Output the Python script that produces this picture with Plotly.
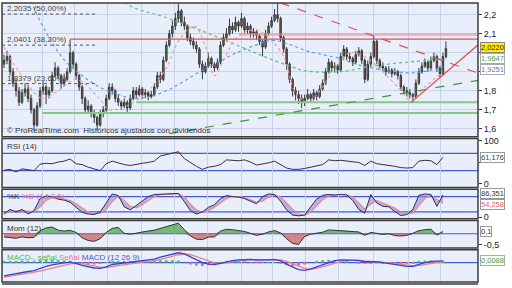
import plotly.graph_objects as go

# ---------------- price data (daily candles) ----------------
CLOSE = [1.96, 1.98, 1.90, 1.84, 1.80, 1.74, 1.79, 1.81, 1.76, 1.70,
         1.62, 1.72, 1.80, 1.82, 1.78, 1.80, 1.88, 1.92, 1.88, 1.84,
         1.86, 1.90, 2.00, 1.94, 1.88, 1.82, 1.76, 1.70, 1.72, 1.68,
         1.66, 1.62, 1.68, 1.70, 1.76, 1.82, 1.80, 1.76, 1.74, 1.72,
         1.74, 1.71, 1.76, 1.80, 1.78, 1.81, 1.78, 1.79, 1.77, 1.78,
         1.82, 1.88, 1.86, 1.96, 2.04, 2.10, 2.14, 2.18, 2.22, 2.16,
         2.14, 2.08, 2.06, 2.04, 2.02, 1.94, 1.90, 1.93, 1.97, 1.94,
         1.92, 1.95, 2.04, 2.08, 2.10, 2.14, 2.12, 2.16, 2.14, 2.18,
         2.12, 2.14, 2.10, 2.11, 2.09, 2.06, 2.03, 2.10, 2.14, 2.17,
         2.20, 2.18, 2.08, 2.02, 1.94, 1.86, 1.80, 1.78, 1.76, 1.74,
         1.76, 1.78, 1.76, 1.79, 1.77, 1.81, 1.84, 1.90, 1.95, 1.92,
         1.93, 1.91, 1.98, 2.02, 1.98, 1.97, 1.95, 1.99, 2.01, 1.96,
         1.86, 1.94, 1.98, 2.06, 1.96, 1.93, 1.92, 1.90, 1.91, 1.89,
         1.90, 1.88, 1.82, 1.80, 1.79, 1.78, 1.77, 1.84, 1.90, 1.93,
         1.95, 1.92, 1.96, 1.98, 1.92, 1.89, 1.98, 2.022]
HIGH = [1.99, 2.01, 1.99, 1.92, 1.86, 1.82, 1.81, 1.84, 1.83, 1.78,
        1.71, 1.74, 1.82, 1.85, 1.83, 1.82, 1.90, 1.95, 1.93, 1.89,
        1.89, 1.92, 2.07, 2.01, 1.95, 1.89, 1.83, 1.77, 1.75, 1.73,
        1.70, 1.67, 1.70, 1.72, 1.78, 1.84, 1.84, 1.81, 1.78, 1.75,
        1.76, 1.75, 1.78, 1.82, 1.82, 1.83, 1.82, 1.81, 1.80, 1.80,
        1.84, 1.90, 1.90, 1.98, 2.06, 2.12, 2.17, 2.21, 2.26, 2.23,
        2.19, 2.15, 2.10, 2.08, 2.06, 2.03, 1.96, 1.95, 2.00, 1.98,
        1.95, 1.97, 2.06, 2.10, 2.13, 2.18, 2.16, 2.19, 2.17, 2.21,
        2.19, 2.16, 2.15, 2.13, 2.12, 2.10, 2.07, 2.12, 2.16, 2.19,
        2.23, 2.26, 2.19, 2.09, 2.03, 1.95, 1.87, 1.82, 1.80, 1.78,
        1.78, 1.81, 1.79, 1.81, 1.80, 1.83, 1.86, 1.92, 1.97, 1.96,
        1.95, 1.94, 2.00, 2.04, 2.03, 2.00, 1.98, 2.01, 2.03, 2.02,
        1.97, 1.96, 2.00, 2.09, 2.07, 1.97, 1.95, 1.93, 1.93, 1.92,
        1.92, 1.91, 1.89, 1.83, 1.82, 1.81, 1.79, 1.86, 1.92, 1.95,
        1.97, 1.96, 1.98, 2.00, 1.99, 1.93, 2.00, 2.06]
LOW = [1.92, 1.94, 1.88, 1.82, 1.77, 1.72, 1.73, 1.77, 1.74, 1.68,
       1.59, 1.61, 1.71, 1.78, 1.73, 1.76, 1.79, 1.87, 1.86, 1.81,
       1.82, 1.85, 1.89, 1.92, 1.86, 1.80, 1.73, 1.68, 1.68, 1.66,
       1.63, 1.59, 1.61, 1.66, 1.69, 1.75, 1.78, 1.74, 1.72, 1.70,
       1.71, 1.69, 1.70, 1.75, 1.76, 1.77, 1.76, 1.76, 1.75, 1.76,
       1.77, 1.81, 1.84, 1.85, 1.95, 2.03, 2.08, 2.12, 2.16, 2.14,
       2.12, 2.06, 2.04, 2.02, 2.00, 1.92, 1.86, 1.89, 1.92, 1.92,
       1.90, 1.91, 1.94, 2.03, 2.06, 2.09, 2.10, 2.11, 2.11, 2.13,
       2.10, 2.10, 2.08, 2.08, 2.07, 2.04, 1.98, 2.02, 2.09, 2.13,
       2.16, 2.16, 2.06, 2.00, 1.91, 1.84, 1.77, 1.75, 1.73, 1.71,
       1.72, 1.75, 1.74, 1.75, 1.75, 1.76, 1.80, 1.83, 1.89, 1.90,
       1.90, 1.89, 1.90, 1.97, 1.96, 1.95, 1.93, 1.94, 1.98, 1.94,
       1.84, 1.85, 1.93, 1.97, 1.94, 1.91, 1.90, 1.88, 1.89, 1.87,
       1.88, 1.86, 1.80, 1.78, 1.77, 1.76, 1.74, 1.76, 1.83, 1.89,
       1.92, 1.90, 1.91, 1.95, 1.90, 1.87, 1.88, 1.97]
OPEN = [1.94] + CLOSE[:-1]
DAYS = list(range(len(CLOSE)))

# ---------------- indicator data (every second session) ----------------
IND_DAYS = list(range(0, 148, 2))
RSI = [31, 33, 27, 34, 32, 30, 45, 47, 46, 50, 52, 57, 46, 44, 38, 34, 30, 46, 52, 48,
       44, 42, 45, 47, 49, 52, 64, 67, 71, 74, 58, 48, 40, 33, 38, 40, 44, 55, 54, 53,
       55, 50, 43, 45, 48, 52, 44, 36, 33, 33, 35, 38, 40, 44, 55, 53, 54, 52, 51, 49,
       42, 52, 46, 44, 43, 40, 37, 36, 37, 52, 54, 53, 44, 61]
STOCH_K = [12, 30, 20, 30, 12, 25, 72, 82, 80, 70, 66, 58, 38, 18, 12, 10, 20, 55, 90, 84,
           40, 28, 45, 65, 80, 88, 90, 90, 91, 92, 60, 25, 12, 20, 38, 48, 72, 84, 80, 78,
           72, 62, 52, 80, 90, 88, 62, 28, 8, 5, 8, 40, 70, 85, 88, 86, 88, 86, 65, 30,
           15, 88, 55, 42, 40, 22, 6, 10, 30, 85, 90, 88, 42, 86]
STOCH_D = [15, 20, 24, 26, 22, 20, 40, 65, 78, 76, 70, 64, 52, 35, 20, 13, 14, 30, 60, 82,
           65, 42, 36, 48, 65, 80, 87, 89, 90, 91, 78, 50, 28, 18, 25, 38, 55, 72, 80, 80,
           76, 68, 58, 62, 78, 86, 78, 55, 30, 12, 7, 20, 45, 68, 82, 86, 87, 87, 78, 55,
           32, 50, 65, 55, 45, 35, 20, 12, 16, 45, 72, 86, 68, 54]
MOM = [-0.14, -0.18, -0.20, -0.14, -0.18, -0.16, 0.14, 0.26, 0.30, 0.16,
       0.12, 0.15, 0.06, -0.18, -0.30, -0.34, -0.22, 0.06, 0.24, 0.28,
       0.02, -0.02, 0.03, 0.10, 0.12, 0.16, 0.24, 0.32, 0.40, 0.47,
       0.18, -0.10, -0.24, -0.26, -0.15, -0.14, 0.12, 0.20, 0.18, 0.14,
       0.10, 0.02, -0.07, -0.02, 0.08, 0.14, 0.04, -0.22, -0.43, -0.48,
       -0.12, -0.02, 0.03, 0.07, 0.17, 0.15, 0.16, 0.13, 0.11, 0.08,
       -0.07, 0.06, 0.02, -0.03, 0.00, -0.08, -0.10, -0.07, 0.02, 0.14,
       0.18, 0.20, -0.06, 0.10]
MACD = [-0.068, -0.062, -0.058, -0.050, -0.046, -0.042, -0.030, -0.020, -0.012, -0.006,
        -0.002, 0.002, -0.004, -0.014, -0.022, -0.028, -0.030, -0.022, -0.010, -0.006,
        -0.004, 0.000, 0.004, 0.008, 0.012, 0.018, 0.028, 0.036, 0.044, 0.050,
        0.044, 0.030, 0.014, 0.000, -0.008, -0.010, -0.004, 0.004, 0.010, 0.014,
        0.016, 0.016, 0.013, 0.012, 0.014, 0.016, 0.008, -0.008, -0.024, -0.036,
        -0.040, -0.034, -0.022, -0.010, 0.002, 0.010, 0.014, 0.014, 0.012, 0.010,
        0.004, 0.004, 0.004, 0.000, -0.004, -0.008, -0.014, -0.020, -0.020, -0.010,
        0.000, 0.006, 0.006, 0.009]
SIGNAL = [-0.075, -0.070, -0.065, -0.060, -0.055, -0.050, -0.044, -0.036, -0.028, -0.020,
          -0.013, -0.007, -0.004, -0.006, -0.012, -0.018, -0.024, -0.025, -0.020, -0.014,
          -0.010, -0.006, -0.002, 0.002, 0.006, 0.010, 0.016, 0.024, 0.032, 0.040,
          0.044, 0.040, 0.030, 0.018, 0.006, -0.002, -0.005, -0.002, 0.004, 0.008,
          0.012, 0.014, 0.014, 0.013, 0.013, 0.014, 0.013, 0.006, -0.006, -0.020,
          -0.030, -0.034, -0.030, -0.022, -0.012, -0.002, 0.006, 0.010, 0.012, 0.012,
          0.009, 0.007, 0.005, 0.003, 0.000, -0.004, -0.008, -0.013, -0.017, -0.016,
          -0.010, -0.004, 0.001, 0.004]

# ---------------- moving averages & drawn objects (session index, price) ----------------
MA_BLUE_DAYS = [5.0, 9.3, 15.0, 20.7, 26.0, 31.7, 37.3, 42.7, 48.3, 54.0, 59.3, 65.0,
                70.7, 76.0, 83.7, 89.3, 94.7, 100.7, 106.0, 111.7, 117.0, 122.3, 128.0,
                137.0, 146.0]
MA_BLUE = [2.45, 2.26, 2.08, 1.95, 1.88, 1.82, 1.785, 1.76, 1.77, 1.80, 1.845, 1.90,
           1.945, 1.99, 2.04, 2.065, 2.045, 2.01, 1.99, 1.97, 1.94, 1.92, 1.905,
           1.895, 1.925]
MA_GREEN_DAYS = [35.0, 40.7, 54.0, 65.0, 76.0, 85.0, 95.0, 100.3, 111.3, 122.7, 133.7, 146.0]
MA_GREEN = [2.40, 2.26, 2.185, 2.12, 2.05, 1.99, 1.93, 1.905, 1.90, 1.93, 1.95, 1.964]
PINK_DAYS = [0, 5, 12.7, 18, 24, 31.7, 35, 42, 48, 54, 58, 63.3, 67.3, 70, 73, 78, 83.7,
             88, 93, 96.7, 101, 106, 110, 115, 120, 126, 131, 135.3, 140, 146]
PINK = [2.03, 1.90, 1.76, 1.80, 1.86, 1.76, 1.70, 1.73, 1.80, 1.92, 2.06, 2.14, 2.02,
        1.88, 1.96, 2.09, 2.12, 2.08, 1.98, 1.80, 1.74, 1.82, 1.92, 2.00, 1.98, 1.90,
        1.82, 1.75, 1.82, 1.90]

FIB_LEVELS = [2.2035, 2.0401, 1.8379]
FIB_LABELS = ["2,2035 (50,00%)", "2,0401 (38,20%)", "1,8379 (23,60%)"]
FIB_END = 30.7
RES_RED = (22.0, 2.072)        # start session, level
RES_PINK = (78.3, 2.096)
SUP_GREEN = [(44.0, 1.740), (12.7, 1.684)]
TREND_RED_DASH = [(92.0, 2.262), (157.7, 1.893)]
TREND_RED = [(135.3, 1.738), (157.7, 2.042)]
TREND_GREEN_DASH = [(55.0, 1.575), (157.7, 1.855)]

GRID_DAYS = [12.67, 23.33, 34.33, 45.67, 56.67, 67.67, 79.0, 89.33, 100.33, 111.33,
             123.0, 134.67, 145.33]

PRICE_TICKS = [1.6, 1.7, 1.8, 1.9, 2.0, 2.1, 2.2]
PRICE_TICK_TEXT = ["1,6", "1,7", "1,8", "", "", "2,1", "2,2"]

# ---------------- layout constants ----------------
X0, X1 = -0.667, 157.667
BG = "#e9eefb"
GRIDC = "#c8d2ea"
BLUE = "#4658dc"
FONT = "Liberation Sans, Arial, sans-serif"
H = 288.0


def dom(top_px, bot_px):
    return [1 - bot_px / H, 1 - top_px / H]


D_MAIN = dom(0, 137)
D_RSI = dom(139, 189)
D_STO = dom(191, 221)
D_MOM = dom(223, 251)
D_MACD = dom(253, 286)

fig = go.Figure()

# main panel
fig.add_trace(go.Scatter(x=MA_BLUE_DAYS, y=MA_BLUE, mode="lines", line=dict(color="#5b9cf0", width=1.2, dash="dot", shape="spline"), xaxis="x", yaxis="y"))
fig.add_trace(go.Scatter(x=MA_GREEN_DAYS, y=MA_GREEN, mode="lines", line=dict(color="#52c07a", width=1.2, dash="dot", shape="spline"), xaxis="x", yaxis="y"))
fig.add_trace(go.Scatter(x=PINK_DAYS, y=PINK, mode="lines", line=dict(color="#ee9a9a", width=1.1, dash="dot", shape="spline"), xaxis="x", yaxis="y"))

for lvl in FIB_LEVELS:
    fig.add_trace(go.Scatter(x=[X0, FIB_END], y=[lvl, lvl], mode="lines", line=dict(color="#555", width=1, dash="dot"), xaxis="x", yaxis="y"))
fig.add_trace(go.Scatter(x=[RES_PINK[0], X1], y=[RES_PINK[1]] * 2, mode="lines", line=dict(color="rgba(240,140,150,0.55)", width=3), xaxis="x", yaxis="y"))
fig.add_trace(go.Scatter(x=[RES_RED[0], X1], y=[RES_RED[1]] * 2, mode="lines", line=dict(color="#e05050", width=1.2), xaxis="x", yaxis="y"))
for s, lvl in SUP_GREEN:
    fig.add_trace(go.Scatter(x=[s, X1], y=[lvl, lvl], mode="lines", line=dict(color="#86c886", width=2), xaxis="x", yaxis="y"))
fig.add_trace(go.Scatter(x=[p[0] for p in TREND_GREEN_DASH], y=[p[1] for p in TREND_GREEN_DASH], mode="lines", line=dict(color="#3a9a3a", width=1.2, dash="dash"), xaxis="x", yaxis="y"))
fig.add_trace(go.Scatter(x=[p[0] for p in TREND_RED_DASH], y=[p[1] for p in TREND_RED_DASH], mode="lines", line=dict(color="#e05050", width=1.2, dash="dash"), xaxis="x", yaxis="y"))
fig.add_trace(go.Scatter(x=[p[0] for p in TREND_RED], y=[p[1] for p in TREND_RED], mode="lines", line=dict(color="#e84848", width=1.2), xaxis="x", yaxis="y"))

fig.add_trace(go.Candlestick(x=DAYS, open=OPEN, high=HIGH, low=LOW, close=CLOSE,
                             increasing=dict(fillcolor="#3f943f", line=dict(color="#3a3a3a", width=1)),
                             decreasing=dict(fillcolor="#9a4646", line=dict(color="#3a3a3a", width=1)),
                             whiskerwidth=0, xaxis="x", yaxis="y"))

# RSI panel
fig.add_trace(go.Scatter(x=IND_DAYS, y=[70] * len(RSI), mode="lines", line=dict(width=0), xaxis="x2", yaxis="y2"))
fig.add_trace(go.Scatter(x=IND_DAYS, y=[max(v, 70) for v in RSI], mode="lines", line=dict(width=0), fill="tonexty", fillcolor="rgba(220,120,120,0.7)", xaxis="x2", yaxis="y2"))
fig.add_trace(go.Scatter(x=IND_DAYS, y=RSI, mode="lines", line=dict(color="#333", width=1), xaxis="x2", yaxis="y2"))

# Stochastic panel
fig.add_trace(go.Scatter(x=IND_DAYS, y=STOCH_D, mode="lines", line=dict(color="#e88a8a", width=1.2), xaxis="x3", yaxis="y3"))
fig.add_trace(go.Scatter(x=IND_DAYS, y=STOCH_K, mode="lines", line=dict(color="#2a2a60", width=1), fill="tonexty", fillcolor="rgba(150,130,210,0.55)", xaxis="x3", yaxis="y3"))

# Momentum panel
fig.add_trace(go.Scatter(x=IND_DAYS, y=[max(v, 0) for v in MOM], mode="lines", line=dict(width=0), fill="tozeroy", fillcolor="rgba(70,160,70,0.7)", xaxis="x4", yaxis="y4"))
fig.add_trace(go.Scatter(x=IND_DAYS, y=[min(v, 0) for v in MOM], mode="lines", line=dict(width=0), fill="tozeroy", fillcolor="rgba(200,90,90,0.7)", xaxis="x4", yaxis="y4"))
fig.add_trace(go.Scatter(x=IND_DAYS, y=MOM, mode="lines", line=dict(color="#333", width=1), xaxis="x4", yaxis="y4"))

# MACD panel
HIST = [m - s for m, s in zip(MACD, SIGNAL)]
fig.add_trace(go.Bar(x=IND_DAYS, y=HIST, width=0.9, marker=dict(color=["#52c052" if h >= 0 else "#e07070" for h in HIST], line=dict(width=0)), xaxis="x5", yaxis="y5"))
fig.add_trace(go.Scatter(x=IND_DAYS, y=SIGNAL, mode="lines", line=dict(color="#ef8080", width=1.3), xaxis="x5", yaxis="y5"))
fig.add_trace(go.Scatter(x=IND_DAYS, y=MACD, mode="lines", line=dict(color="#3344dd", width=1.3), xaxis="x5", yaxis="y5"))


def xaxis(anchor):
    return dict(range=[X0, X1], domain=[0, 1], anchor=anchor, showticklabels=False,
                tickvals=GRID_DAYS, showgrid=True, gridcolor=GRIDC, gridwidth=1,
                zeroline=False, ticks="", showline=False, fixedrange=True)


def yaxis(domain, rng, tickvals=None, ticktext=None, grid=False):
    return dict(domain=domain, range=rng, side="right", anchor="x",
                tickvals=tickvals or [], ticktext=ticktext or [],
                ticks="outside" if tickvals else "", ticklen=3, tickcolor="#333",
                tickfont=dict(family=FONT, size=9, color="#222"),
                showgrid=grid, gridcolor=GRIDC, zeroline=False, showline=False, fixedrange=True)


layout = dict(
    width=512, height=288, margin=dict(l=2, r=34, t=0, b=0),
    paper_bgcolor="white", plot_bgcolor=BG, showlegend=False, hovermode=False,
    font=dict(family=FONT, size=8, color="#333"),
    xaxis=dict(xaxis("y"), rangeslider=dict(visible=False)),
    xaxis2=dict(xaxis("y2"), matches="x"),
    xaxis3=dict(xaxis("y3"), matches="x"),
    xaxis4=dict(xaxis("y4"), matches="x"),
    xaxis5=dict(xaxis("y5"), matches="x"),
    yaxis=yaxis(D_MAIN, [1.559, 2.2615], PRICE_TICKS, PRICE_TICK_TEXT, grid=True),
    yaxis2=dict(yaxis(D_RSI, [-9.1, 104.5], [0, 50, 100], ["0", "", "100"]), anchor="x2"),
    yaxis3=dict(yaxis(D_STO, [-6, 108], [0], ["0"]), anchor="x3"),
    yaxis4=dict(yaxis(D_MOM, [-0.63, 0.587], [-0.5], ["-0,5"]), anchor="x4"),
    yaxis5=dict(yaxis(D_MACD, [-0.1, 0.065]), anchor="x5"),
)
fig.update_layout(**layout)

shapes = []
# threshold lines
for yref, lvl in [("y2", 70), ("y2", 30), ("y3", 80), ("y3", 20), ("y4", 0), ("y5", 0)]:
    shapes.append(dict(type="line", xref="paper", x0=0, x1=1, yref=yref, y0=lvl, y1=lvl,
                       line=dict(color=BLUE, width=1.2), layer="below"))
# panel borders
for d in [D_MAIN, D_RSI, D_STO, D_MOM, D_MACD]:
    shapes.append(dict(type="rect", xref="paper", yref="paper", x0=0, x1=1, y0=d[0], y1=d[1],
                       line=dict(color="#3c3c3c", width=1.5), layer="above"))
shapes.append(dict(type="line", xref="paper", yref="paper", x0=0, x1=1, y0=0, y1=0,
                   line=dict(color="#3c3c3c", width=1.5)))
fig.update_layout(shapes=shapes)

ann = []
for lvl, txt in zip(FIB_LEVELS, FIB_LABELS):
    ann.append(dict(x=0.006, xref="paper", y=lvl, yref="y", text=txt, showarrow=False,
                    xanchor="left", yanchor="bottom", yshift=-1, font=dict(size=8, color="#444")))
ann.append(dict(x=0.006, xref="paper", y=1 - 131 / H, yref="paper",
                text="© ProRealTime.com  Históricos ajustados con dividendos", showarrow=False,
                xanchor="left", yanchor="middle", font=dict(size=8, color="#333")))
titles = [
    (D_RSI, "RSI (14)"),
    (D_STO, "%K <span style='color:#e07a7a'>%D (14,3,5)</span>"),
    (D_MOM, "Mom (12)"),
    (D_MACD, "<span style='color:#4cbb4c'>MACD-, señal</span> <span style='color:#e87a7a'>Señal</span> <span style='color:#4658dc'>MACD (12 26 9)</span>"),
]
for d, txt in titles:
    ann.append(dict(x=0.006, xref="paper", y=d[1], yref="paper", text=txt, showarrow=False,
                    xanchor="left", yanchor="top", yshift=-1, font=dict(size=8, color="#333")))

# (axis, value, text, font colour, background, border, vertical nudge in px)
boxes = [
    ("y", 2.022, "2,0220", "#222", "#ffee00", "#888", 1),
    ("y", 1.9647, "1,9647", "#3aa04a", "white", "#aaa", 1),
    ("y", 1.9251, "1,9251", "#4a7ad0", "white", "#aaa", -2),
    ("y2", 61.176, "61,176", "#444", "white", "#999", 0),
    ("y3", 86.351, "86,351", "#333", "white", "#999", 1),
    ("y3", 54.258, "54,258", "#e06060", "white", "#999", -1),
    ("y4", 0.1, "0,1", "#333", "white", "#999", 0),
    ("y5", 0.0088, "0,0088", "#3aa04a", "white", "#aaa", 0),
]
for yref, v, txt, fc, bg, bc, ys in boxes:
    ann.append(dict(x=1, xref="paper", y=v, yref=yref, text=txt, showarrow=False,
                    xanchor="left", yanchor="middle", xshift=2, yshift=ys,
                    font=dict(size=7.5, color=fc), bgcolor=bg, bordercolor=bc,
                    borderwidth=1, borderpad=0))
fig.update_layout(annotations=ann)

fig.write_html("out.html")
